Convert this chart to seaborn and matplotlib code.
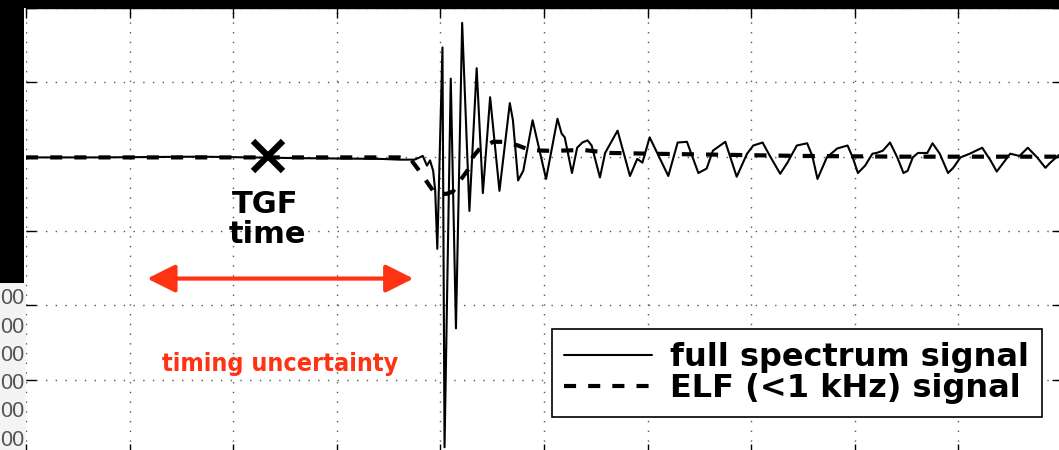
import matplotlib
matplotlib.use("Agg")
import matplotlib.pyplot as plt
import seaborn as sns
import pandas as pd
from matplotlib import font_manager as fm
from matplotlib.patches import Rectangle, FancyArrowPatch
from matplotlib.lines import Line2D

# ---------------- data (time in grid units, amplitude in grid units) ----------------
t_full = [0.00, 0.71, 1.68, 2.64, 3.42, 3.61, 3.75, 3.80, 3.83, 3.87, 3.90, 3.93, 3.95, 3.97,
          4.02, 4.04, 4.10, 4.15, 4.21, 4.28, 4.35, 4.41, 4.48, 4.57, 4.67, 4.70, 4.75, 4.80,
          4.89, 5.02, 5.13, 5.17, 5.20, 5.27, 5.32, 5.37, 5.42, 5.46, 5.54, 5.59, 5.71, 5.83,
          5.90, 5.95, 6.02, 6.20, 6.29, 6.38, 6.49, 6.57, 6.63, 6.75, 6.86, 6.96, 7.02, 7.11,
          7.18, 7.28, 7.35, 7.44, 7.54, 7.59, 7.64, 7.73, 7.83, 7.93, 7.98, 8.03, 8.10, 8.17,
          8.21, 8.27, 8.34, 8.41, 8.47, 8.51, 8.56, 8.61, 8.70, 8.75, 8.82, 8.90, 8.95, 9.02,
          9.11, 9.23, 9.31, 9.37, 9.43, 9.50, 9.59, 9.67, 9.76, 9.84, 9.88, 9.96, 10.00]
v_full = [-0.01, -0.01, 0.00, -0.02, -0.03, -0.04, -0.04, -0.01, 0.01, -0.12, -0.05, -0.19, -0.46, -1.24,
          1.47, -3.91, 1.05, -2.31, 1.80, -0.73, 1.19, -0.49, 0.80, -0.46, 0.72, 0.49, -0.32, -0.19,
          0.49, -0.30, 0.51, 0.31, 0.26, -0.22, 0.12, 0.19, 0.22, 0.15, -0.28, 0.05, 0.35, -0.26,
          -0.03, -0.08, 0.26, -0.26, 0.19, 0.20, -0.22, -0.16, 0.08, 0.20, -0.27, 0.04, 0.15, 0.19,
          0.01, -0.23, -0.08, 0.15, 0.18, 0.01, -0.30, -0.01, 0.11, 0.15, -0.01, -0.22, -0.12, 0.04,
          0.05, 0.08, 0.19, -0.01, -0.22, -0.19, -0.01, 0.05, 0.05, 0.18, 0.04, -0.22, -0.15, -0.01,
          0.04, 0.12, -0.05, -0.20, -0.09, 0.04, 0.01, 0.12, -0.01, -0.15, -0.09, 0.01, 0.05]

t_elf = [0.00, 3.61, 3.71, 3.78, 3.85, 3.93, 4.00, 4.06, 4.12, 4.19, 4.26, 4.31, 4.38, 4.51,
         4.62, 4.75, 4.86, 5.01, 5.13, 5.38, 5.64, 6.02, 6.51, 7.47, 8.44, 10.00]
v_elf = [-0.01, -0.01, -0.03, -0.16, -0.30, -0.46, -0.50, -0.50, -0.47, -0.32, -0.19, -0.01, 0.11, 0.20,
         0.20, 0.15, 0.09, 0.08, 0.08, 0.09, 0.05, 0.04, 0.03, 0.01, 0.00, 0.00]

legend_labels = ["full spectrum signal", "ELF (<1 kHz) signal"]
tgf_time = 2.34
tgf_level = 0.01
uncert_start, uncert_end, uncert_level = 1.17, 3.74, -1.64
side_labels = ["00", "00", "00", "00", "00", "00"]

RED = "#ff3214"

# ---------------- fonts ----------------
def find_condensed_bold():
    best = None
    for f in fm.fontManager.ttflist:
        n = f.name.lower()
        st = str(f.stretch).lower()
        cond = ("narrow" in n or "condensed" in n or "condensed" in st
                or (st.isdigit() and int(st) < 500))
        if not cond:
            continue
        w = f.weight
        try:
            w = int(w)
        except Exception:
            w = 700 if "bold" in str(w).lower() else 400
        score = abs(w - 700)
        if best is None or score < best[0]:
            best = (score, f.fname)
    return best[1] if best else None

cond_path = find_condensed_bold()

# ---------------- figure ----------------
sns.set_theme(style="ticks")
plt.rcParams["font.family"] = ["DejaVu Sans"]
plt.rcParams["text.color"] = "black"

W, H = 1059, 450
fig = plt.figure(figsize=(W / 100, H / 100), dpi=100)
fig.patch.set_facecolor("white")

# light background strip on the left below the black bar + cut tick labels
fig.patches.append(Rectangle((0, 0), 26 / W, 1 - 283 / H, transform=fig.transFigure,
                             facecolor="#f4f4f4", edgecolor="none", zorder=0))
for i, lab in enumerate(side_labels):
    yc = 299 + 28.2 * i
    fig.text(24 / W, 1 - yc / H, lab, ha="right", va="center", fontsize=15.5,
             color="#555555", family=["Liberation Sans", "DejaVu Sans"], zorder=1)

ax = fig.add_axes([26 / W, -4 / H, 1036 / W, 446 / H])
ax.set_zorder(0.5)

df_full = pd.DataFrame({"t": t_full, "v": v_full})
df_elf = pd.DataFrame({"t": t_elf, "v": v_elf})
sns.lineplot(data=df_full, x="t", y="v", ax=ax, color="black", sort=False,
             estimator=None, linewidth=1.5)
sns.lineplot(data=df_elf, x="t", y="v", ax=ax, color="black", sort=False,
             estimator=None, linewidth=3.0)
l_full, l_elf = ax.lines[0], ax.lines[1]
l_full.set_zorder(3)
l_elf.set_linestyle((0, (2.9, 2.9)))
l_elf.set_zorder(4)

ax.set_xlim(0, 10)
ax.set_ylim(-4, 2)
ax.set_xticks(range(0, 11))
ax.set_yticks(range(-4, 3))
ax.set_xlabel("")
ax.set_ylabel("")
ax.tick_params(direction="in", length=7, width=1, top=True, right=True,
               labelleft=False, labelbottom=False, color="black")
for s in ax.spines.values():
    s.set_linewidth(1)
    s.set_color("black")
ax.spines["left"].set_visible(False)
ax.grid(True, linestyle=(0, (1, 6)), color="#555555", linewidth=1)
ax.set_axisbelow(True)

# TGF marker and text
ax.plot([tgf_time], [tgf_level], marker="x", markersize=22, markeredgewidth=4.5,
        color="black", linestyle="none", zorder=5)
ax.text(2.31, -0.757, "TGF", ha="center", va="baseline", fontsize=22,
        fontweight="bold", color="black", zorder=6)
ax.text(2.33, -1.16, "time", ha="center", va="baseline", fontsize=22,
        fontweight="bold", color="black", zorder=6)

# timing uncertainty arrow
arr = FancyArrowPatch((uncert_start, uncert_level), (uncert_end, uncert_level),
                      arrowstyle="<|-|>,head_length=17,head_width=8.5",
                      mutation_scale=1, linewidth=3, color=RED,
                      shrinkA=0, shrinkB=0, zorder=6)
ax.add_patch(arr)
if cond_path:
    tprop = fm.FontProperties(fname=cond_path, size=18)
else:
    tprop = fm.FontProperties(family=["Liberation Sans", "DejaVu Sans"], weight="bold", size=19.5)
ax.text(2.45, -2.89, "timing uncertainty", ha="center", va="baseline",
        fontproperties=tprop, color=RED, zorder=6)

# legend
handles = [Line2D([], [], color="black", linewidth=1.5),
           Line2D([], [], color="black", linewidth=3.0, linestyle=(0, (2.9, 2.9)))]
leg = ax.legend(handles, legend_labels, loc="upper right",
                bbox_to_anchor=((1042 - 26) / 1036, (454 - 329) / 446),
                bbox_transform=ax.transAxes,
                prop=dict(family="DejaVu Sans", weight="bold", size=23), frameon=True,
                fancybox=False, edgecolor="black", framealpha=1, borderaxespad=0,
                handlelength=2.75, handletextpad=0.56, labelspacing=0.0, borderpad=0.4)
leg.get_frame().set_linewidth(1.2)
leg.set_zorder(10)
for txt in leg.get_texts():
    txt.set_color("black")

# black frame pieces (top strip, left bar)
fig.patches.append(Rectangle((0, 1 - 8 / H), 1, 8 / H, transform=fig.transFigure,
                             facecolor="black", edgecolor="none", zorder=5))
fig.patches.append(Rectangle((0, 1 - 283 / H), 24 / W, 283 / H, transform=fig.transFigure,
                             facecolor="black", edgecolor="none", zorder=5))

fig.savefig("out.png", dpi=100)
